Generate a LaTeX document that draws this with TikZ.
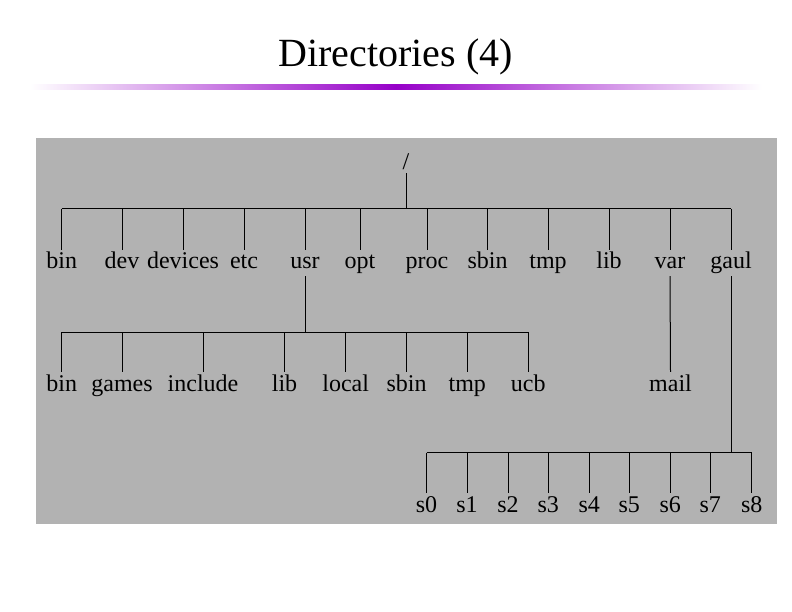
\documentclass[tikz,border=0pt]{standalone}
\usepackage{fontspec}
\setmainfont{Liberation Serif}
\definecolor{boxgray}{RGB}{178,178,178}
\definecolor{lineP}{RGB}{150,0,200}
\begin{document}
\begin{tikzpicture}[x=1pt,y=-1pt,
  lbl/.style={anchor=base,inner sep=2pt,text height=17pt,text depth=5pt,
    font=\fontsize{24}{28}\selectfont},
  edge/.style={draw=black,line width=1pt}]
\useasboundingbox (0,0) rectangle (792,612);
% title and gradient rule
\node[anchor=base,inner sep=0pt,font=\fontsize{40}{46}\selectfont] (title) at (395.5,67) {Directories (4)};
\fill[left color=white,right color=lineP] (30,84.5) rectangle (396,89.5);
\fill[left color=lineP,right color=white] (396,84.5) rectangle (762,89.5);
% panel
\fill[boxgray] (36,137.7) rectangle (777,524);
% root
\node[anchor=base,inner sep=0pt,text depth=0pt,font=\fontsize{24}{28}\selectfont] (root) at (406,170) {/};
% bus levels
\coordinate (busA) at (0,209);
\coordinate (busB) at (0,332);
\coordinate (busC) at (0,452.7);
% level 1
\node[lbl] (bin) at (61.7,269) {bin};
\node[lbl] (dev) at (122,269) {dev};
\node[lbl] (devices) at (183,269) {devices};
\node[lbl] (etc) at (244,269) {etc};
\node[lbl] (usr) at (305,269) {usr};
\node[lbl] (opt) at (360,269) {opt};
\node[lbl] (proc) at (427,269) {proc};
\node[lbl] (sbin) at (487.5,269) {sbin};
\node[lbl] (tmp) at (548,269) {tmp};
\node[lbl] (lib) at (609,269) {lib};
\node[lbl] (var) at (670,269) {var};
\node[lbl] (gaul) at (731,269) {gaul};
% level 2 (usr)
\node[lbl] (ubin) at (61.7,391) {bin};
\node[lbl] (games) at (122,391) {games};
\node[lbl] (include) at (203,391) {include};
\node[lbl] (ulib) at (284.5,391) {lib};
\node[lbl] (local) at (345.7,391) {local};
\node[lbl] (usbin) at (406.5,391) {sbin};
\node[lbl] (utmp) at (467.3,391) {tmp};
\node[lbl] (ucb) at (528.3,391) {ucb};
% var
\node[lbl] (mail) at (670.5,391) {mail};
% level 3 (gaul)
\node[lbl] (s0) at (426.5,512) {s0};
\node[lbl] (s1) at (467,512) {s1};
\node[lbl] (s2) at (508,512) {s2};
\node[lbl] (s3) at (548.3,512) {s3};
\node[lbl] (s4) at (589.3,512) {s4};
\node[lbl] (s5) at (629.3,512) {s5};
\node[lbl] (s6) at (670.3,512) {s6};
\node[lbl] (s7) at (710.3,512) {s7};
\node[lbl] (s8) at (751.7,512) {s8};
% connectors level 1
\draw[edge] ([yshift=-3pt]root.south) -- (root.south |- busA);
\draw[edge] (bin.north |- busA) -- (gaul.north |- busA);
\foreach \n in {bin,dev,devices,etc,usr,opt,proc,sbin,tmp,lib,var,gaul}
  \draw[edge] (\n.north |- busA) -- (\n.north);
% connectors level 2
\draw[edge] (usr.south) -- (usr.south |- busB);
\draw[edge] (ubin.north |- busB) -- (ucb.north |- busB);
\foreach \n in {ubin,games,include,ulib,local,usbin,utmp,ucb}
  \draw[edge] (\n.north |- busB) -- (\n.north);
% var -> mail
\draw[edge] (var.south) -- (mail.north);
% connectors level 3
\draw[edge] (gaul.south) -- (gaul.south |- busC);
\draw[edge] (s0.north |- busC) -- (s8.north |- busC);
\foreach \n in {s0,s1,s2,s3,s4,s5,s6,s7,s8}
  \draw[edge] (\n.north |- busC) -- (\n.north);
\end{tikzpicture}
\end{document}
